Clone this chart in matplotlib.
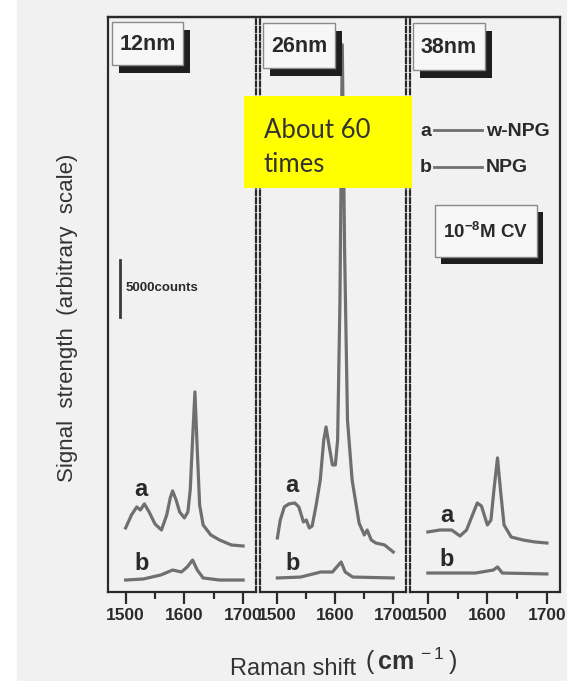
import matplotlib
matplotlib.use("Agg")
import matplotlib.pyplot as plt
from matplotlib.patches import Rectangle

plt.rcParams["mathtext.fontset"] = "custom"
plt.rcParams["mathtext.rm"] = "Liberation Sans"
plt.rcParams["mathtext.bf"] = "Liberation Sans:bold"

# Raman shift (cm-1) and signal (counts)
p12_a_x = [1500, 1510, 1519, 1525, 1532, 1540, 1550, 1561, 1570, 1576, 1580, 1586,
           1592, 1600, 1606, 1610, 1614, 1618, 1622, 1626, 1632, 1645, 1660, 1680, 1700]
p12_a_y = [5570, 6700, 7400, 7130, 7660, 6960, 5920, 5390, 6700, 8180, 8790, 8000,
           6960, 6440, 6960, 8870, 13220, 17400, 12350, 7570, 5830, 4960, 4520, 4090, 4000]
p12_b_x = [1500, 1530, 1560, 1580, 1595, 1605, 1614, 1622, 1632, 1660, 1700]
p12_b_y = [1040, 1130, 1480, 1910, 1740, 2180, 2780, 1910, 1220, 1040, 1040]

p26_a_x = [1500, 1505, 1512, 1520, 1530, 1537, 1545, 1550, 1555, 1560, 1567, 1574,
           1580, 1584, 1589, 1595, 1600, 1604, 1608, 1612, 1616, 1621, 1629, 1641,
           1650, 1655, 1662, 1670, 1685, 1700]
p26_a_y = [4700, 6260, 7400, 7660, 7740, 7400, 6090, 6260, 5570, 5740, 7570, 9740,
           13200, 14350, 12790, 11050, 11050, 13220, 25400, 47590, 29750, 14960, 9740, 6000,
           4960, 5390, 4520, 4260, 4090, 3480]
p26_b_x = [1500, 1540, 1575, 1595, 1604, 1610, 1617, 1630, 1700]
p26_b_y = [1220, 1300, 1740, 1740, 2260, 2610, 1740, 1300, 1220]

p38_a_x = [1500, 1520, 1540, 1554, 1565, 1575, 1583, 1590, 1600, 1606, 1611, 1617,
           1622, 1628, 1640, 1660, 1680, 1700]
p38_a_y = [5220, 5390, 5390, 4870, 5390, 6700, 7740, 7480, 5830, 6260, 8870, 11660,
           8870, 5830, 4780, 4520, 4350, 4260]
p38_b_x = [1500, 1580, 1610, 1617, 1625, 1700]
p38_b_y = [1650, 1650, 1910, 2180, 1650, 1570]

panel_names = ["12nm", "26nm", "38nm"]
tick_vals = [1500, 1600, 1700]
tick_labels = ["1500", "1600", "1700"]

W, H = 567, 681
bg = "#f1f1f1"
curve_c = "#6f6f6f"
ink = "#2a2a2a"
bold_font = "Liberation Sans"

fig = plt.figure(figsize=(W / 100, H / 100), dpi=100, facecolor="white")

# panel extents in pixels (left, right)
panels = [(108, 256), (260, 406), (410, 560)]
top, bottom = 17, 592
series = [(p12_a_x, p12_a_y, p12_b_x, p12_b_y),
          (p26_a_x, p26_a_y, p26_b_x, p26_b_y),
          (p38_a_x, p38_a_y, p38_b_x, p38_b_y)]

# gray scan background
bgax = fig.add_axes([0, 0, 1, 1], zorder=-5)
bgax.set_xlim(0, W)
bgax.set_ylim(H, 0)
bgax.axis("off")
bgax.add_patch(Rectangle((17, 0), W - 17, H, color=bg, lw=0))

axes = []
for i, ((l, r), (ax_x, ax_y, bx, by)) in enumerate(zip(panels, series)):
    ax = fig.add_axes([l / W, (H - bottom) / H, (r - l) / W, (bottom - top) / H])
    ax.set_facecolor(bg)
    ax.plot(ax_x, ax_y, color=curve_c, lw=2.3, solid_joinstyle="round")
    ax.plot(bx, by, color=curve_c, lw=2.3, solid_joinstyle="round")
    ax.set_xlim(1470, 1722)
    ax.set_ylim(0, 50000)
    ax.set_yticks([])
    ax.set_xticks(tick_vals)
    ax.set_xticklabels(tick_labels)
    ax.set_xticks([1550, 1650], minor=True)
    ax.tick_params(axis="x", which="major", direction="out", length=8.5, width=1.6,
                   color=ink, pad=3, labelsize=12.5, labelcolor=ink)
    ax.tick_params(axis="x", which="minor", direction="out", length=5, width=1.6, color=ink)
    for lab in ax.get_xticklabels():
        lab.set_family(bold_font)
        lab.set_fontweight("bold")
    for s in ax.spines.values():
        s.set_color(ink)
        s.set_linewidth(1.6)
    if i > 0:
        ax.spines["left"].set_linestyle((0, (2.2, 1.3)))
    if i < 2:
        ax.spines["right"].set_linestyle((0, (2.2, 1.3)))
    axes.append(ax)

# overlay in pixel coordinates for boxes and annotations
ov = fig.add_axes([0, 0, 1, 1], zorder=10)
ov.set_xlim(0, W)
ov.set_ylim(H, 0)
ov.axis("off")
ov.patch.set_visible(False)

ov.plot([108, 560], [top, top], color=ink, lw=1.6)


def shadow_box(x0, y0, x1, y1, text, fs, dx=7, dy=8):
    ov.add_patch(Rectangle((x0 + dx, y0 + dy), x1 - x0, y1 - y0, color="#1e1e1e", lw=0))
    ov.add_patch(Rectangle((x0, y0), x1 - x0, y1 - y0, facecolor="#f7f7f7",
                           edgecolor="#8a8a8a", lw=1.0))
    ov.text((x0 + x1) / 2, (y0 + y1) / 2 + 1, text, ha="center", va="center",
            fontsize=fs, fontweight="bold", family=bold_font, color=ink)


shadow_box(112, 22, 183, 65, panel_names[0], 15.5)
shadow_box(263, 23, 335, 68, panel_names[1], 15.5)
shadow_box(413, 23, 485, 70, panel_names[2], 15.5)
shadow_box(435, 205, 537, 257, r"10$^{\mathbf{-8}}$M CV", 13.5, dx=6, dy=7)

# legend
leg_kw = dict(ha="left", va="center", fontsize=14, fontweight="bold", family=bold_font, color=ink)
ov.text(420, 131, "a", **leg_kw)
ov.plot([434, 482], [130, 130], color=curve_c, lw=2)
ov.text(486, 131, "w-NPG", **leg_kw)
ov.text(420, 168, "b", **leg_kw)
ov.plot([434, 482], [167, 167], color=curve_c, lw=2)
ov.text(486, 168, "NPG", **leg_kw)

# scale bar
ov.plot([120, 120], [260, 317], color="#3a3a3a", lw=2)
ov.text(126, 288, "5000counts", ha="left", va="center", fontsize=9.5, fontweight="bold",
        family=bold_font, color=ink)

# curve labels
for x, y, t in [(141, 489, "a"), (142, 564, "b"), (292, 486, "a"), (293, 564, "b"),
                (447, 515, "a"), (447, 560, "b")]:
    ov.text(x, y, t, ha="center", va="center", fontsize=17, fontweight="bold",
            family=bold_font, color=ink)

# yellow callout
ov.add_patch(Rectangle((244, 96), 168, 92, color="#ffff00", lw=0))
ov.text(264, 131, "About 60", ha="left", va="center", fontsize=18.5, family="Lato", color="#333333")
ov.text(264, 164, "times", ha="left", va="center", fontsize=18.5, family="Lato", color="#333333")

# axis titles
ov.text(68, 318, "Signal  strength  (arbitrary  scale)", rotation=90, ha="center", va="center",
        fontsize=16, family="Liberation Sans", color="#333333")
ov.text(230, 675, "Raman shift", ha="left", va="baseline",
        fontsize=17, family="Liberation Sans", color="#333333")
ov.text(365, 670, r"$(\,\mathbf{cm}^{\,-1}\,)$", ha="left", va="baseline",
        fontsize=18, family="Liberation Sans", color="#333333")

fig.savefig("out.png", dpi=100, facecolor="white")
